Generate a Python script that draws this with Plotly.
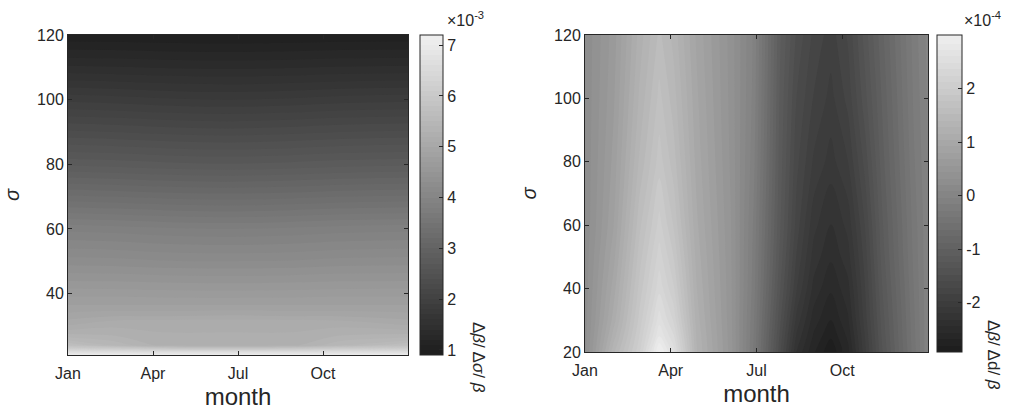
import plotly.graph_objects as go

# ---------------- data ----------------
# Left panel: relative change per relative change in sigma (x 1e-3)
left_months = [1.0, 2.6, 4.4, 6.6, 8.8, 10.6, 13.0]
left_sigma = [21, 22, 23, 24, 26, 28, 31, 33, 36, 40, 50, 60, 70, 80, 90, 100, 110, 120]
left_z = [
    [7.05, 7.05, 7.05, 7.05, 7.05, 7.05, 7.05],
    [6.60, 6.60, 6.55, 6.55, 6.55, 6.60, 6.60],
    [6.10, 6.05, 5.90, 5.85, 5.90, 6.05, 6.10],
    [5.70, 5.50, 5.25, 5.22, 5.25, 5.50, 5.70],
    [5.45, 5.35, 5.20, 5.20, 5.20, 5.35, 5.45],
    [5.25, 5.25, 5.20, 5.20, 5.20, 5.25, 5.25],
    [5.05, 5.15, 5.18, 5.18, 5.18, 5.15, 5.05],
    [4.95, 5.00, 5.00, 5.02, 5.00, 5.00, 4.95],
    [4.82, 4.82, 4.82, 4.82, 4.82, 4.82, 4.82],
    [4.66, 4.66, 4.65, 4.64, 4.65, 4.66, 4.66],
    [4.25, 4.24, 4.21, 4.20, 4.21, 4.24, 4.25],
    [3.87, 3.85, 3.82, 3.80, 3.82, 3.85, 3.87],
    [3.32, 3.30, 3.27, 3.25, 3.27, 3.30, 3.32],
    [2.78, 2.76, 2.73, 2.71, 2.73, 2.76, 2.78],
    [2.32, 2.30, 2.27, 2.25, 2.27, 2.30, 2.32],
    [1.87, 1.85, 1.82, 1.80, 1.82, 1.85, 1.87],
    [1.42, 1.41, 1.39, 1.38, 1.39, 1.41, 1.42],
    [1.02, 1.02, 1.01, 1.00, 1.01, 1.02, 1.02],
]

# Right panel: relative change per relative change in d (x 1e-4)
right_months = [1.0, 2.0, 2.9, 3.6, 4.1, 4.9, 6.1, 6.9, 7.8, 8.4, 9.0, 9.6, 10.2, 10.8, 11.4, 12.5, 13.0]
right_sigma = [20, 25, 30, 40, 50, 60, 80, 100, 120]
right_z = [
    [0.28, 1.37, 2.09, 3.00, 2.55, 1.30, 0.50, -0.30, -1.54, -2.33, -2.66, -2.90, -2.60, -1.99, -1.37, -0.46, -0.06],
    [0.27, 1.22, 2.00, 2.72, 2.38, 1.27, 0.49, -0.28, -1.48, -2.22, -2.58, -2.78, -2.53, -1.95, -1.33, -0.44, -0.06],
    [0.26, 1.10, 1.92, 2.55, 2.22, 1.23, 0.48, -0.26, -1.42, -2.12, -2.50, -2.68, -2.46, -1.90, -1.30, -0.43, -0.06],
    [0.25, 0.98, 1.80, 2.32, 2.02, 1.17, 0.47, -0.22, -1.32, -1.95, -2.36, -2.54, -2.36, -1.84, -1.24, -0.40, -0.06],
    [0.24, 0.88, 1.70, 2.18, 1.88, 1.12, 0.46, -0.20, -1.25, -1.85, -2.25, -2.42, -2.25, -1.78, -1.18, -0.37, -0.06],
    [0.22, 0.80, 1.60, 2.05, 1.75, 1.07, 0.45, -0.18, -1.20, -1.77, -2.16, -2.33, -2.16, -1.71, -1.14, -0.35, -0.06],
    [0.22, 0.72, 1.42, 1.82, 1.58, 1.00, 0.42, -0.12, -1.15, -1.68, -1.98, -2.13, -1.96, -1.55, -1.05, -0.30, -0.04],
    [0.22, 0.66, 1.30, 1.68, 1.46, 0.95, 0.40, -0.08, -1.12, -1.60, -1.85, -2.00, -1.80, -1.40, -0.98, -0.26, -0.02],
    [0.22, 0.62, 1.21, 1.55, 1.36, 0.90, 0.39, -0.06, -1.08, -1.50, -1.75, -1.90, -1.70, -1.30, -0.91, -0.23, 0.00],
]

month_ticks = [1, 4, 7, 10]
month_labels = ["Jan", "Apr", "Jul", "Oct"]
left_cbar_ticks = [1, 2, 3, 4, 5, 6, 7]
right_cbar_ticks = [-2, -1, 0, 1, 2]
right_cbar_text = ["-2", "-1", "0", "1", "2"]

# ---------------- styling ----------------
FONT = "Liberation Sans, Arial, sans-serif"
INK = "#262626"
W, H = 1019, 412
gray = [[0.0, "#1c1c1c"], [1.0, "#eeeeee"]]

def px(x):
    return x / W

def py(y):
    return 1 - y / H

fig = go.Figure()

fig.add_trace(go.Contour(
    x=left_months, y=left_sigma, z=left_z,
    colorscale=gray, zmin=0.9, zmax=7.2,
    contours=dict(start=0.9, end=7.2, size=0.1, coloring="fill", showlines=False),
    line=dict(width=0),
    xaxis="x", yaxis="y",
    colorbar=dict(
        x=px(420), xanchor="left", y=py(35), yanchor="top",
        thicknessmode="pixels", thickness=23, lenmode="pixels", len=320,
        outlinewidth=1, outlinecolor=INK, ypad=0, xpad=0,
        tickvals=left_cbar_ticks, ticks="inside", ticklen=4, tickcolor=INK,
        tickfont=dict(family=FONT, size=16, color=INK),
    ),
))

fig.add_trace(go.Contour(
    x=right_months, y=right_sigma, z=right_z,
    colorscale=gray, zmin=-2.92, zmax=3.0,
    contours=dict(start=-2.92, end=3.0, size=0.12, coloring="fill", showlines=False),
    line=dict(width=0),
    xaxis="x2", yaxis="y2",
    colorbar=dict(
        x=px(937), xanchor="left", y=py(35), yanchor="top",
        thicknessmode="pixels", thickness=25, lenmode="pixels", len=317,
        outlinewidth=1, outlinecolor=INK, ypad=0, xpad=0,
        tickvals=right_cbar_ticks, ticktext=right_cbar_text,
        ticks="inside", ticklen=4, tickcolor=INK,
        tickfont=dict(family=FONT, size=16, color=INK),
    ),
))

axis_common = dict(
    showline=True, linecolor=INK, linewidth=1, mirror="allticks",
    ticks="inside", ticklen=4, tickcolor=INK, showgrid=False, zeroline=False,
    automargin=False,
    tickfont=dict(family=FONT, size=16, color=INK),
)

fig.update_layout(
    width=W, height=H,
    margin=dict(l=0, r=0, t=0, b=0, autoexpand=False),
    paper_bgcolor="white", plot_bgcolor="white",
    font=dict(family=FONT, color=INK),
    showlegend=False,
    xaxis=dict(domain=[px(68), px(408)], range=[1, 13], anchor="y",
               tickvals=month_ticks, ticktext=month_labels, ticklabelstandoff=4,
               title=dict(text="month", font=dict(size=24), standoff=6),
               **axis_common),
    yaxis=dict(domain=[py(355), py(35)], range=[21, 120], anchor="x",
               tickvals=[40, 60, 80, 100, 120],
               title=dict(text="<i>σ</i>", font=dict(size=20), standoff=12),
               **axis_common),
    xaxis2=dict(domain=[px(585), px(928)], range=[1, 13], anchor="y2",
                tickvals=month_ticks, ticktext=month_labels, ticklabelstandoff=4,
                title=dict(text="month", font=dict(size=24), standoff=6),
                **axis_common),
    yaxis2=dict(domain=[py(352), py(35)], range=[20, 120], anchor="x2",
                tickvals=[20, 40, 60, 80, 100, 120],
                title=dict(text="<i>σ</i>", font=dict(size=20), standoff=12),
                **axis_common),
)

# colorbar exponents
fig.add_annotation(x=px(445), y=py(19), xref="paper", yref="paper",
                   xanchor="left", yanchor="middle", showarrow=False,
                   text="×10<sup>-3</sup>", font=dict(family=FONT, size=16, color=INK))
fig.add_annotation(x=px(962), y=py(19), xref="paper", yref="paper",
                   xanchor="left", yanchor="middle", showarrow=False,
                   text="×10<sup>-4</sup>", font=dict(family=FONT, size=16, color=INK))

# colorbar titles, reading downward
fig.add_annotation(x=px(479), y=py(357), xref="paper", yref="paper",
                   xanchor="center", yanchor="middle", showarrow=False, textangle=90,
                   text="Δ<i>β</i>/ Δ<i>σ</i>/ <i>β</i>",
                   font=dict(family=FONT, size=17, color=INK))
fig.add_annotation(x=px(994), y=py(355), xref="paper", yref="paper",
                   xanchor="center", yanchor="middle", showarrow=False, textangle=90,
                   text="Δ<i>β</i>/ Δd/ <i>β</i>",
                   font=dict(family=FONT, size=17, color=INK))

fig.write_html("out.html")
